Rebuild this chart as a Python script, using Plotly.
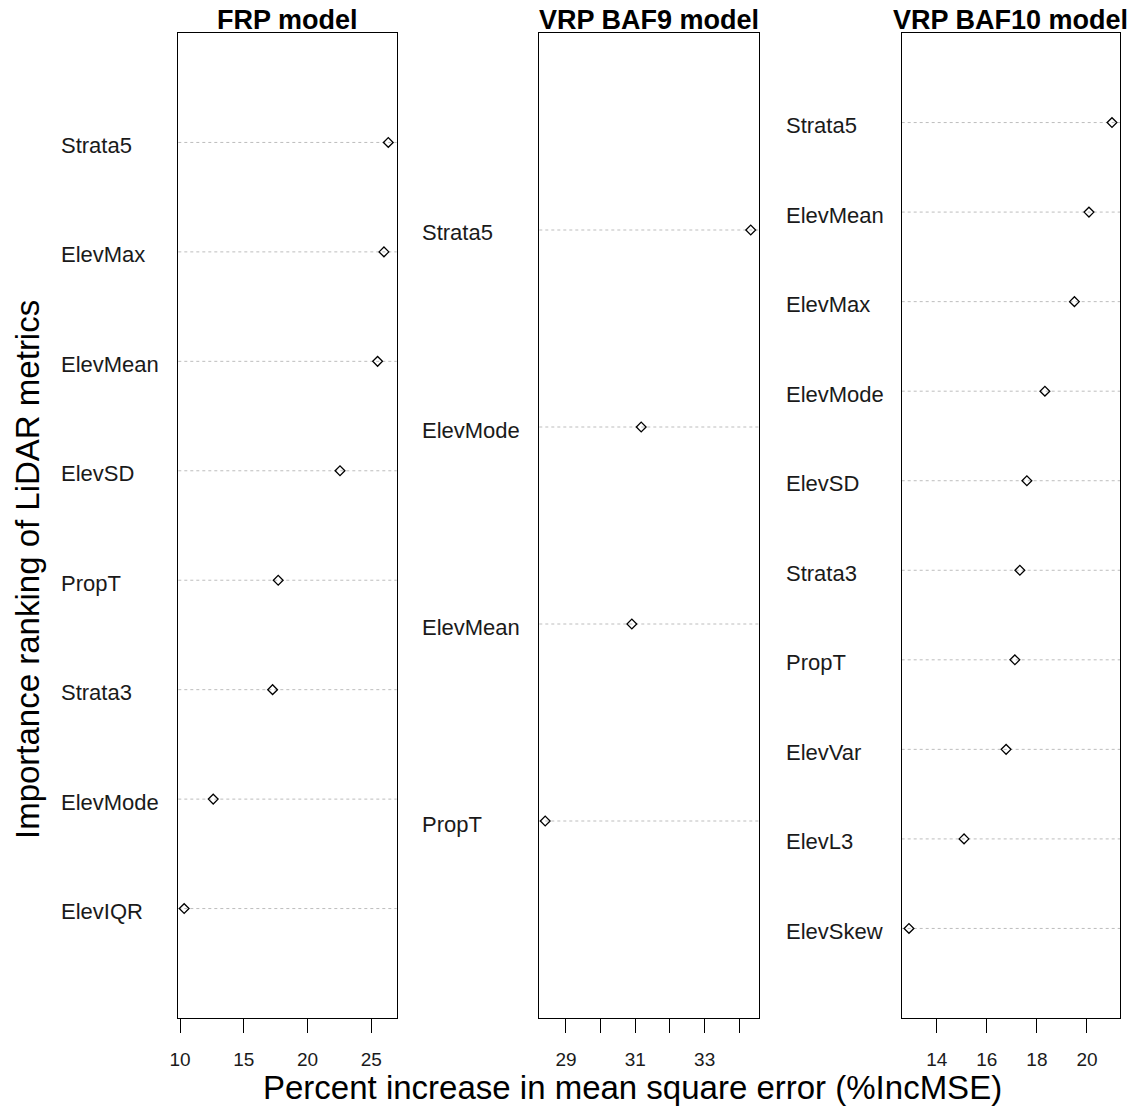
import plotly.graph_objects as go

W, H = 1145, 1109

# ---- data (top-to-bottom order as shown) ----
frp_labels = ["Strata5", "ElevMax", "ElevMean", "ElevSD", "PropT", "Strata3", "ElevMode", "ElevIQR"]
frp_values = [26.34, 26.0, 25.5, 22.55, 17.7, 17.26, 12.6, 10.32]

baf9_labels = ["Strata5", "ElevMode", "ElevMean", "PropT"]
baf9_values = [34.33, 31.17, 30.9, 28.4]

baf10_labels = ["Strata5", "ElevMean", "ElevMax", "ElevMode", "ElevSD", "Strata3", "PropT", "ElevVar", "ElevL3", "ElevSkew"]
baf10_values = [21.0, 20.08, 19.5, 18.32, 17.6, 17.32, 17.12, 16.77, 15.09, 12.89]

panel_titles = ["FRP model", "VRP BAF9 model", "VRP BAF10 model"]
tick_vals = [[10, 15, 20, 25], [29, 30, 31, 32, 33, 34], [14, 16, 18, 20]]
tick_text = [["10", "15", "20", "25"], ["29", "", "31", "", "33", ""], ["14", "16", "18", "20"]]

x_title = "Percent increase in mean square error (%IncMSE)"
y_title = "Importance ranking of LiDAR metrics"

# ---- layout geometry ----
x_ranges = [[9.86, 27.0], [28.23, 34.56], [12.6, 21.32]]
x_domains = [[178.3 / W, 396.7 / W], [539.3 / W, 758.7 / W], [901.7 / W, 1120.0 / W]]
y_domain = [1 - 1018 / H, 1 - 33 / H]
label_x_px = [59, 420, 784]

FONT = "Liberation Sans, Arial, sans-serif"

panels = [(frp_labels, frp_values), (baf9_labels, baf9_values), (baf10_labels, baf10_values)]

fig = go.Figure()
shapes = []
annotations = []

for i, (labels, values) in enumerate(panels):
    n = len(labels)
    ypos = [n - k for k in range(n)]
    xa = "x" if i == 0 else f"x{i+1}"
    ya = "y" if i == 0 else f"y{i+1}"

    fig.add_trace(go.Scatter(
        x=values, y=ypos, mode="markers", xaxis=xa, yaxis=ya,
        marker=dict(symbol="diamond-open", size=7.5, color="black", line=dict(width=1.3, color="black")),
        showlegend=False, hoverinfo="skip", cliponaxis=False,
    ))

    for lab, yp in zip(labels, ypos):
        shapes.append(dict(
            type="line", xref=f"{xa} domain", yref=ya, x0=0, x1=1, y0=yp, y1=yp,
            line=dict(color="#bdbdbd", width=1, dash="3px,3px"), layer="below",
        ))
        annotations.append(dict(
            text=lab, xref="paper", yref=ya, x=label_x_px[i] / W, y=yp,
            xanchor="left", yanchor="middle", yshift=-3, showarrow=False,
            font=dict(family=FONT, size=22, color="#1a1a1a"),
        ))

    annotations.append(dict(
        text=f"<b>{panel_titles[i]}</b>", xref=f"{xa} domain", yref="paper",
        x=0.5, y=1 - 20 / H, xanchor="center", yanchor="middle", showarrow=False,
        font=dict(family=FONT, size=27, color="black"),
    ))

    axis_x = dict(
        domain=x_domains[i], range=x_ranges[i], showgrid=False, zeroline=False,
        showline=True, mirror=True, linecolor="black", linewidth=1,
        ticks="outside", ticklen=14, tickwidth=1, tickcolor="black",
        tickvals=tick_vals[i], ticktext=tick_text[i], ticklabelstandoff=10,
        tickfont=dict(family=FONT, size=19, color="#1a1a1a"),
        anchor=ya, fixedrange=True, automargin=False,
    )
    axis_y = dict(
        domain=y_domain, range=[0, n + 1], showgrid=False, zeroline=False,
        showline=True, mirror=True, linecolor="black", linewidth=1,
        showticklabels=False, ticks="", anchor=xa, fixedrange=True, automargin=False,
    )
    fig.layout[f"xaxis{'' if i == 0 else i+1}"] = axis_x
    fig.layout[f"yaxis{'' if i == 0 else i+1}"] = axis_y

annotations.append(dict(
    text=x_title, xref="paper", yref="paper", x=632 / W, y=1 - 1087 / H,
    xanchor="center", yanchor="middle", showarrow=False,
    font=dict(family=FONT, size=33, color="black"),
))
annotations.append(dict(
    text=y_title, xref="paper", yref="paper", x=27 / W, y=1 - 570 / H,
    xanchor="center", yanchor="middle", showarrow=False, textangle=-90,
    font=dict(family=FONT, size=33, color="black"),
))

fig.update_layout(
    template="none",
    width=W, height=H, margin=dict(l=0, r=0, t=0, b=0, pad=0, autoexpand=False),
    paper_bgcolor="white", plot_bgcolor="white",
    shapes=shapes, annotations=annotations,
)

fig.write_html("out.html")
